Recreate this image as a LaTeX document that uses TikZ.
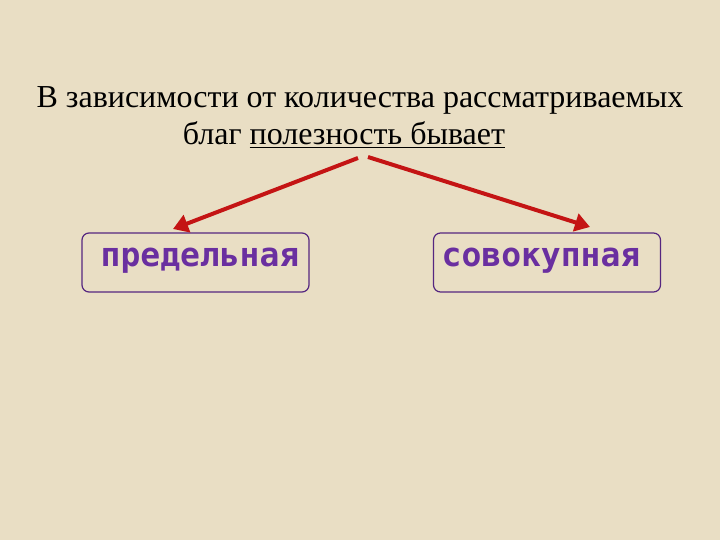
\documentclass[tikz,border=0pt]{standalone}
\usepackage{fontspec}
\setmainfont{Liberation Serif}
\newfontfamily\boxfont{DejaVu Sans Mono}
\usetikzlibrary{arrows.meta}
\definecolor{bg}{HTML}{E9DEC4}
\definecolor{arr}{HTML}{C41414}
\definecolor{pur}{HTML}{6A2FA0}
\tikzset{lbox/.style={draw=pur!80!black, line width=1.2pt, rounded corners=7pt, minimum width=227pt, minimum height=59pt, inner sep=0pt},
lbl/.style={font=\boxfont\bfseries\fontsize{33}{36}\selectfont, text=pur},
arrw/.style={draw=arr, line width=4pt, -{Triangle[length=15pt,width=18pt]}}}
\begin{document}
\begin{tikzpicture}[x=1pt,y=-1pt]
\fill[bg] (0,0) rectangle (720,540);
\useasboundingbox (0,0) rectangle (720,540);
\node[font=\fontsize{32}{36}\selectfont, anchor=base] (t1) at (360,108) {В зависимости от количества рассматриваемых};
\node[font=\fontsize{32}{36}\selectfont, anchor=base] (t2) at (344,145) {благ \underline{полезность бывает}};
\node[lbox] (b1) at (195.5,262.5) {};
\node[lbox] (b2) at (547,262.5) {};
\node[lbl, anchor=base] at (200,266) {предельная};
\node[lbl, anchor=base] at (541,266) {совокупная};
\coordinate (s1) at (358,158);
\coordinate (s2) at (368,157);
\coordinate (e1) at (173,229);
\coordinate (e2) at (590,227);
\draw[arrw] (s1) -- (e1);
\draw[arrw] (s2) -- (e2);
\end{tikzpicture}
\end{document}
